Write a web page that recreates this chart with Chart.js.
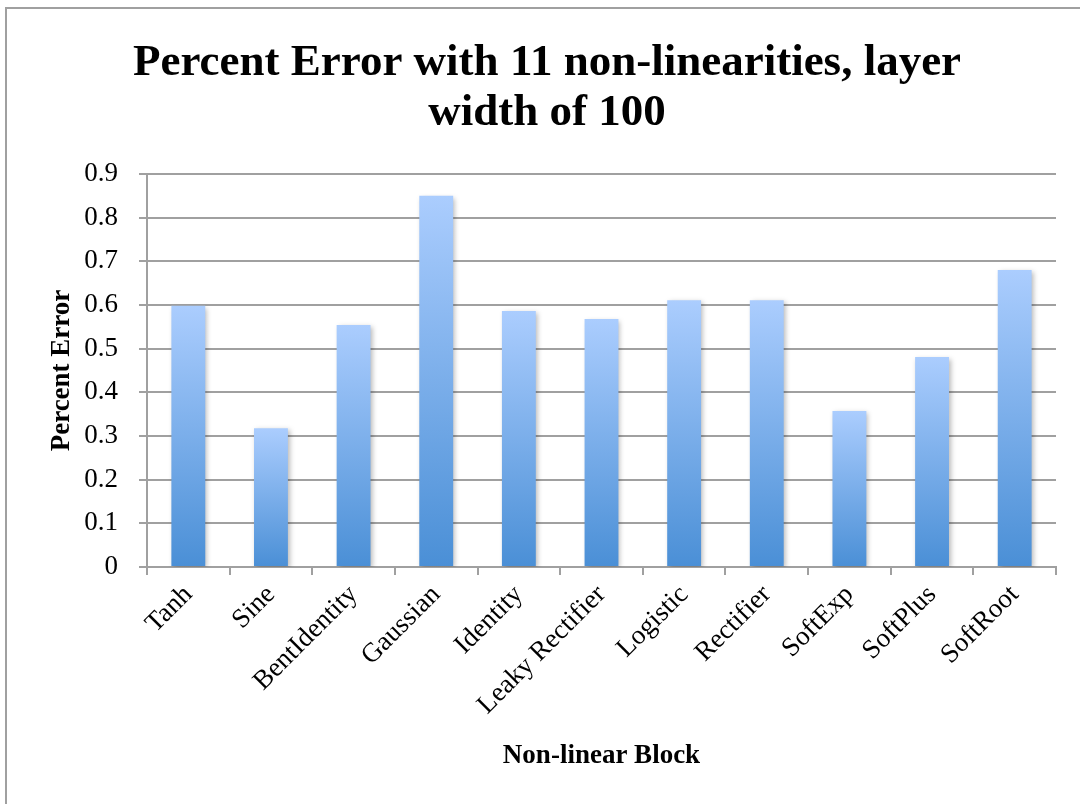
<!DOCTYPE html>
<html>
<head>
<meta charset="utf-8">
<script src="https://cdn.jsdelivr.net/npm/chart.js@4/dist/chart.umd.min.js"></script>
<style>
  html, body { margin: 0; padding: 0; background: #ffffff; }
  #wrap { position: relative; width: 1080px; height: 804px; }
</style>
</head>
<body>
<div id="wrap"><canvas id="chart" width="1080" height="804"></canvas></div>
<script>
// Percent error per non-linear block (layer width 100)
const blocks = ["Tanh", "Sine", "BentIdentity", "Gaussian", "Identity", "Leaky Rectifier",
                "Logistic", "Rectifier", "SoftExp", "SoftPlus", "SoftRoot"];
const percentError = [0.598, 0.318, 0.554, 0.850, 0.586, 0.568, 0.611, 0.611, 0.357, 0.481, 0.680];
const titleLines = ["Percent Error with 11 non-linearities, layer", "width of 100"];
const yTitle = "Percent Error";
const xTitle = "Non-linear Block";

const SERIF = "'Liberation Serif', 'DejaVu Serif', serif";
const GRID = "#a0a0a0";

// vertical gradient per bar: light at the top, deeper blue at the base
function barFill(ctx) {
  const chart = ctx.chart;
  if (!chart.chartArea || ctx.type !== 'data') return '#79aee9';
  const y = chart.scales.y;
  const top = y.getPixelForValue(ctx.parsed.y);
  const base = y.getPixelForValue(0);
  const g = chart.ctx.createLinearGradient(0, top, 0, base);
  g.addColorStop(0, '#abcdfe');
  g.addColorStop(1, '#4a8fd6');
  return g;
}

// soft drop shadow under the bars
const barShadow = {
  id: 'barShadow',
  beforeDatasetsDraw(chart) {
    const c = chart.ctx;
    c.save();
    c.shadowColor = 'rgba(0,0,0,0.28)';
    c.shadowBlur = 5;
    c.shadowOffsetX = 2;
    c.shadowOffsetY = 2;
  },
  afterDatasetsDraw(chart) {
    chart.ctx.restore();
  }
};

// outer frame line along the top and left edges
const frame = {
  id: 'frame',
  beforeDraw(chart) {
    const c = chart.ctx;
    c.save();
    c.fillStyle = '#ffffff';
    c.fillRect(0, 0, chart.width, chart.height);
    c.strokeStyle = GRID;
    c.lineWidth = 2;
    c.beginPath();
    c.moveTo(6, chart.height);
    c.lineTo(6, 8);
    c.lineTo(chart.width, 8);
    c.stroke();
    c.restore();
  }
};

const PAD = { top: 10, left: 38, right: 24, bottom: 20 };
const AXIS_X = 147;   // pixel of the value axis
const AXIS_Y = 567;   // pixel of the category axis

new Chart(document.getElementById('chart'), {
  type: 'bar',
  data: {
    labels: blocks,
    datasets: [{
      label: yTitle,
      data: percentError,
      backgroundColor: barFill,
      borderWidth: 0,
      barPercentage: 0.82,
      categoryPercentage: 0.5
    }]
  },
  plugins: [frame, barShadow],
  options: {
    responsive: false,
    animation: false,
    layout: { padding: PAD },
    plugins: {
      legend: { display: false },
      tooltip: { enabled: false },
      title: {
        display: true,
        text: titleLines,
        color: '#000000',
        font: { family: SERIF, size: 45, weight: 'bold', lineHeight: 1.1 },
        padding: { top: 29, bottom: 36 }
      }
    },
    scales: {
      x: {
        afterFit(scale) { scale.height = 804 - PAD.bottom - AXIS_Y; },
        grid: { drawOnChartArea: false, drawTicks: true, tickLength: 8, color: GRID, lineWidth: 2 },
        border: { display: true, color: GRID, width: 2 },
        ticks: {
          color: '#000000',
          font: { family: SERIF, size: 27 },
          minRotation: 45, maxRotation: 45,
          padding: 4
        },
        title: {
          display: true,
          text: xTitle,
          color: '#000000',
          font: { family: SERIF, size: 27, weight: 'bold', lineHeight: 1.2 },
          padding: { top: 20, bottom: 12 }
        }
      },
      y: {
        min: 0, max: 0.9,
        afterFit(scale) { scale.width = AXIS_X - PAD.left; },
        grid: { color: GRID, lineWidth: 2, tickLength: 8, drawTicks: true },
        border: { display: true, color: GRID, width: 2 },
        ticks: {
          stepSize: 0.1,
          color: '#000000',
          font: { family: SERIF, size: 27 },
          padding: 21,
          callback: v => Math.round(v * 10) / 10
        },
        title: {
          display: true,
          text: yTitle,
          color: '#000000',
          font: { family: SERIF, size: 27, weight: 'bold', lineHeight: 1.2 },
          padding: { top: 8, bottom: 10 }
        }
      }
    }
  }
});
</script>
</body>
</html>
